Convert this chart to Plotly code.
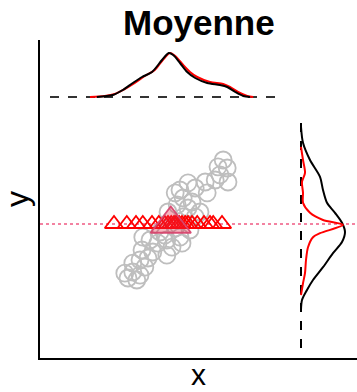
import plotly.graph_objects as go

# Observed points (gray circles)
obs_x = [1.33, 1.20, 1.43, 1.45, 1.25, 0.88, 0.93, 0.63, 0.45, 0.25, 0.13, 0.33, 0.55, 0.45,
         0.18, -0.05, 0.75, 0.63, 0.33, 0.13, -0.25, 0.50, 0.25, -0.08, -0.68, -0.50, -0.30,
         0.05, 0.30, -0.70, -0.43, -0.08, -0.55, -0.75, -0.93, -0.63, -1.13, -0.93, -0.75,
         -0.83, -1.05, 1.13, -0.13]
obs_y = [1.65, 1.48, 1.45, 1.10, 1.28, 1.10, 0.83, 0.95, 1.08, 0.90, 0.83, 0.70, 0.60, 0.45,
         0.53, 0.35, 0.35, 0.23, 0.23, -0.05, -0.15, -0.10, -0.28, -0.35, -0.28, -0.35, -0.43,
         -0.53, -0.43, -0.60, -0.65, -0.73, -0.80, -0.85, -0.93, -1.03, -1.18, -1.15, -1.23,
         -1.35, -1.30, 1.15, -0.23]

# Imputed points (red triangles, y set to the mean)
imp_x = [-1.40, -1.08, -0.85, -0.68, -0.45, -0.28, -0.13, -0.05, 0.03, 0.10, 0.15, 0.23,
         0.30, 0.38, 0.45, 0.55, 0.68, 0.85, 1.00, 1.08, 1.30]
mean_y = 0.05
mean_x = 0.02

# Marginal density of x (top)
dx_black_x = [-1.83, -1.43, -1.18, -0.93, -0.70, -0.45, -0.20, -0.03, 0.08, 0.25, 0.43, 0.63,
              0.93, 1.25, 1.43, 1.63, 1.83, 2.00]
dx_black_d = [0.00, 0.02, 0.07, 0.14, 0.20, 0.25, 0.37, 0.44, 0.42, 0.34, 0.25, 0.19,
              0.14, 0.12, 0.10, 0.05, 0.01, 0.00]
dx_red_x = [-2.00, -1.63, -1.38, -1.13, -0.88, -0.63, -0.38, -0.18, 0.00, 0.13, 0.33, 0.50,
            0.68, 1.00, 1.33, 1.50, 1.70, 1.93, 2.08]
dx_red_d = [0.00, 0.01, 0.03, 0.08, 0.14, 0.21, 0.27, 0.37, 0.44, 0.41, 0.32, 0.25,
            0.20, 0.15, 0.13, 0.10, 0.05, 0.01, 0.00]

# Marginal density of y (right)
dy_black_y = [2.48, 2.08, 1.65, 1.23, 0.90, 0.58, 0.33, 0.08, -0.15, -0.40, -0.68, -1.03,
              -1.35, -1.60, -1.85, -2.10]
dy_black_d = [0.00, 0.02, 0.09, 0.19, 0.22, 0.26, 0.34, 0.41, 0.44, 0.41, 0.32, 0.22,
              0.12, 0.06, 0.01, 0.00]
dy_red_y = [1.98, 1.65, 1.33, 1.10, 0.83, 0.58, 0.33, 0.15, 0.03, -0.18, -0.28, -0.53,
            -0.85, -1.18, -1.43, -1.73]
dy_red_d = [0.00, 0.02, 0.04, 0.01, 0.02, 0.02, 0.09, 0.22, 0.42, 0.19, 0.12, 0.07,
            0.05, 0.04, 0.02, 0.00]

top_base = 3.225
top_span = [-3.0, 2.83]
right_base = 3.275
right_span = [-3.05, 2.78]
dens_scale = 2.5
x_range = [-3.25, 4.675]
y_range = [-3.3, 4.65]

fig = go.Figure()

# pink dotted mean line
fig.add_trace(go.Scatter(x=x_range, y=[mean_y, mean_y], mode="lines",
                         line=dict(color="rgb(240,90,130)", width=1.5, dash="dot"),
                         hoverinfo="skip"))

fig.add_trace(go.Scatter(x=obs_x, y=obs_y, mode="markers",
                         marker=dict(symbol="circle-open", size=17,
                                     line=dict(color="rgb(190,190,190)", width=1.8),
                                     color="rgb(190,190,190)")))

fig.add_trace(go.Scatter(x=imp_x, y=[mean_y] * len(imp_x), mode="markers",
                         marker=dict(symbol="triangle-up-open", size=16,
                                     line=dict(color="red", width=1.8), color="red")))

fig.add_trace(go.Scatter(x=[mean_x], y=[mean_y], mode="markers",
                         marker=dict(symbol="triangle-up", size=35,
                                     color="rgba(230,40,70,0.35)",
                                     line=dict(color="rgba(215,70,110,0.95)", width=1.8))))

# top density
fig.add_trace(go.Scatter(x=top_span, y=[top_base, top_base], mode="lines",
                         line=dict(color="#333", width=2, dash="dash")))
fig.add_trace(go.Scatter(x=dx_red_x, y=[top_base + d * dens_scale for d in dx_red_d],
                         mode="lines", line=dict(color="red", width=2, shape="spline", smoothing=0.8)))
fig.add_trace(go.Scatter(x=dx_black_x, y=[top_base + d * dens_scale for d in dx_black_d],
                         mode="lines", line=dict(color="black", width=2, shape="spline", smoothing=0.8)))

# right density
fig.add_trace(go.Scatter(x=[right_base, right_base], y=right_span, mode="lines",
                         line=dict(color="black", width=2, dash="dash")))
fig.add_trace(go.Scatter(x=[right_base + d * dens_scale for d in dy_black_d], y=dy_black_y,
                         mode="lines", line=dict(color="black", width=2, shape="spline", smoothing=0.8)))
fig.add_trace(go.Scatter(x=[right_base + d * dens_scale for d in dy_red_d], y=dy_red_y,
                         mode="lines", line=dict(color="red", width=2, shape="spline", smoothing=0.8)))

font = "Liberation Sans, Arial, Helvetica, sans-serif"
fig.update_layout(
    width=357, height=392,
    margin=dict(l=40, r=0, t=40, b=34),
    paper_bgcolor="white", plot_bgcolor="white",
    showlegend=False,
    font=dict(family=font, color="black"),
    xaxis=dict(range=x_range, showgrid=False, zeroline=False, showticklabels=False,
               ticks="", showline=True, linecolor="black", linewidth=2),
    yaxis=dict(range=y_range, showgrid=False, zeroline=False, showticklabels=False,
               ticks="", showline=True, linecolor="black", linewidth=2),
    annotations=[
        dict(text="<b>Moyenne</b>", x=0.5, y=1, xref="paper", yref="paper",
             xanchor="center", yanchor="bottom", yshift=-4, showarrow=False,
             font=dict(size=35, family=font)),
        dict(text="x", x=0.5, y=0, xref="paper", yref="paper", xanchor="center",
             yanchor="bottom", yshift=-34, showarrow=False, borderpad=0,
             font=dict(size=30, family=font)),
        dict(text="y", x=0, y=0.5, xref="paper", yref="paper", xanchor="right",
             yanchor="middle", xshift=-3, textangle=-90, showarrow=False,
             font=dict(size=32, family=font)),
    ],
)

fig.write_html("out.html", config={"displayModeBar": False},
               post_script="document.body.style.margin='0';document.body.style.overflow='hidden';")
